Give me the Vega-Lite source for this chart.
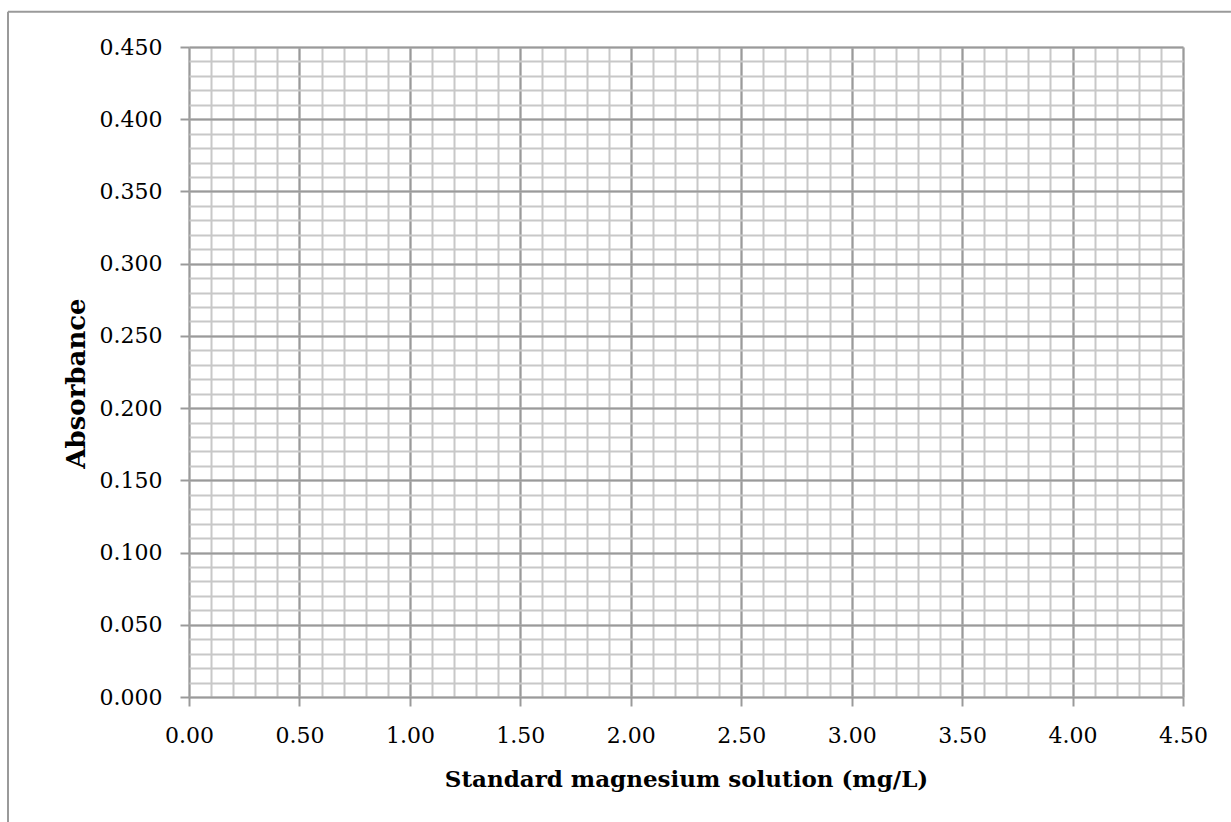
{
  "$schema": "https://vega.github.io/schema/vega-lite/v6.json",
  "width": 994,
  "height": 650,
  "autosize": "none",
  "padding": {"left": 189, "top": 47, "right": 48, "bottom": 125},
  "background": "white",
  "config": {"view": {"stroke": null}, "font": "DejaVu Serif"},
  "data": {"values": [{}]},
  "layer": [
    {
      "mark": {"type": "rule", "color": "#9a9a9a", "strokeWidth": 2},
      "encoding": {
        "x": {
          "datum": -0.8194,
          "type": "quantitative",
          "scale": {"domain": [0, 4.5], "nice": false, "zero": false},
          "axis": {
            "orient": "top",
            "values": [0,0.1,0.2,0.3,0.4,0.5,0.6,0.7,0.8,0.9,1.0,1.1,1.2,1.3,1.4,1.5,1.6,1.7,1.8,1.9,2.0,2.1,2.2,2.3,2.4,2.5,2.6,2.7,2.8,2.9,3.0,3.1,3.2,3.3,3.4,3.5,3.6,3.7,3.8,3.9,4.0,4.1,4.2,4.3,4.4,4.5],
            "grid": true, "gridColor": "#c8c8c8", "gridWidth": 2,
            "labels": false, "ticks": false, "domain": false, "title": null
          }
        },
        "y": {
          "datum": 0.4744,
          "type": "quantitative",
          "scale": {"domain": [0, 0.45], "nice": false, "zero": false},
          "axis": {
            "orient": "right",
            "values": [0,0.01,0.02,0.03,0.04,0.05,0.06,0.07,0.08,0.09,0.1,0.11,0.12,0.13,0.14,0.15,0.16,0.17,0.18,0.19,0.2,0.21,0.22,0.23,0.24,0.25,0.26,0.27,0.28,0.29,0.3,0.31,0.32,0.33,0.34,0.35,0.36,0.37,0.38,0.39,0.4,0.41,0.42,0.43,0.44,0.45],
            "grid": true, "gridColor": "#c8c8c8", "gridWidth": 2,
            "labels": false, "ticks": false, "domain": false, "title": null
          }
        },
        "y2": {"datum": -0.0865}
      }
    },
    {
      "mark": {"type": "rule", "color": "#9a9a9a", "strokeWidth": 2},
      "encoding": {
        "x": {
          "datum": -0.8194,
          "type": "quantitative",
          "scale": {"domain": [0, 4.5], "nice": false, "zero": false},
          "axis": {
            "orient": "bottom",
            "values": [0,0.5,1.0,1.5,2.0,2.5,3.0,3.5,4.0,4.5],
            "format": ".2f",
            "grid": true, "gridColor": "#9a9a9a", "gridWidth": 2,
            "domain": false,
            "ticks": true, "tickSize": 9, "tickColor": "#9a9a9a", "tickWidth": 2,
            "labelFont": "DejaVu Serif", "labelFontSize": 22, "labelColor": "#000000", "labelPadding": 19,
            "labelFlush": false, "labelOverlap": false,
            "title": "Standard magnesium solution (mg/L)",
            "titleFont": "DejaVu Serif", "titleFontSize": 23, "titleFontWeight": "bold", "titleColor": "#000000", "titlePadding": 22
          }
        },
        "x2": {"datum": 4.717},
        "y": {
          "datum": 0.4744,
          "type": "quantitative",
          "scale": {"domain": [0, 0.45], "nice": false, "zero": false},
          "axis": {
            "orient": "left",
            "values": [0,0.05,0.1,0.15,0.2,0.25,0.3,0.35,0.4,0.45],
            "format": ".3f",
            "grid": true, "gridColor": "#9a9a9a", "gridWidth": 2,
            "domain": false,
            "ticks": true, "tickSize": 9, "tickColor": "#9a9a9a", "tickWidth": 2,
            "labelFont": "DejaVu Serif", "labelFontSize": 22, "labelColor": "#000000", "labelPadding": 18,
            "labelFlush": false, "labelOverlap": false,
            "title": "Absorbance",
            "titleFont": "DejaVu Serif", "titleFontSize": 26, "titleFontWeight": "bold", "titleColor": "#000000", "titlePadding": 10,
            "titleY": 336
          }
        }
      }
    }
  ],
  "resolve": {"axis": {"x": "independent", "y": "independent"}}
}
